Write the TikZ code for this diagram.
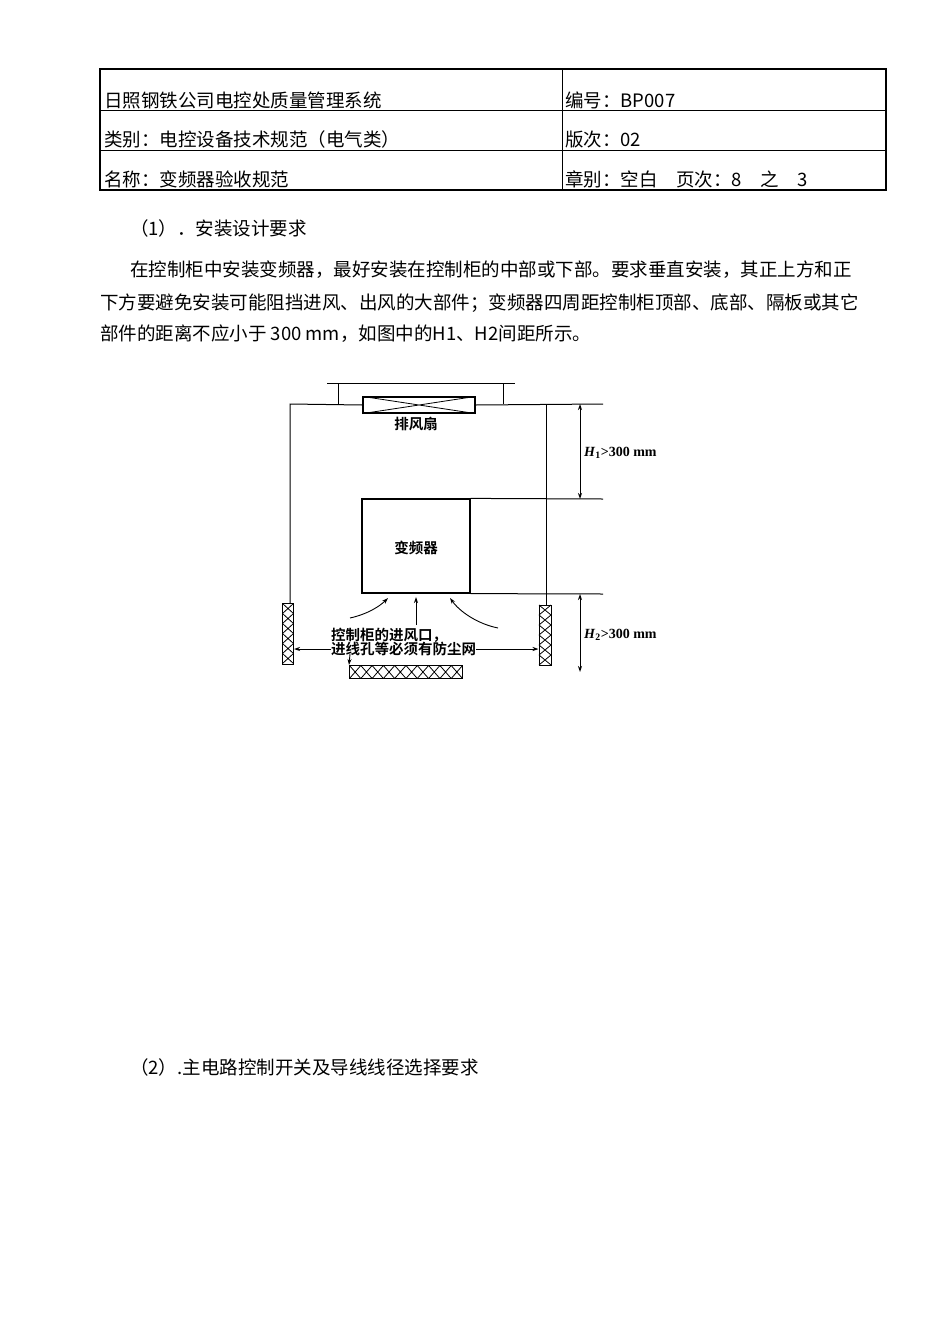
\documentclass[tikz,border=0pt]{standalone}
\usepackage{fontspec}
\setmainfont{Liberation Serif}
\newfontfamily\cjk{Noto Sans CJK SC}
\newfontfamily\cjkb{Noto Sans CJK SC Bold}
\usetikzlibrary{arrows.meta}
\begin{document}
\begin{tikzpicture}[x=1pt,y=-1pt,
  txt/.style={anchor=west,inner sep=0,font=\cjk\fontsize{18.5}{20}\selectfont},
  dtxt/.style={inner sep=0,font=\cjkb\fontsize{14.5}{16}\selectfont},
  box/.style={draw,line width=1.2pt},
  filt/.style={draw,line width=1pt},
  ln/.style={line width=1pt},
  arr/.style={line width=0.9pt,-{Stealth[length=6pt,width=4pt]}},
  dim/.style={line width=1pt,{Stealth[length=6pt,width=4pt]}-{Stealth[length=6pt,width=4pt]}}]
\useasboundingbox (0,0) rectangle (950,1344);
% header table
\draw[line width=2.2pt] (100,69) rectangle (886,190);
\draw[line width=1pt] (100,110) -- (886,110) (100,150) -- (886,150) (562,69) -- (562,190);
\node[txt] (h1) at (104,100) {日照钢铁公司电控处质量管理系统};
\node[txt] (h2) at (104,139) {类别：电控设备技术规范（电气类）};
\node[txt] (h3) at (104,179) {名称：变频器验收规范};
\node[txt] (h4) at (565,100) {编号：BP007};
\node[txt] (h5) at (565,139) {版次：02};
\node[txt] (h6) at (565,179) {章别：空白\quad 页次：8\quad 之\quad 3};
% body text
\node[txt] (t1) at (130,228) {（1）．安装设计要求};
\node[txt] (t2) at (130,270) {在控制柜中安装变频器，最好安装在控制柜的中部或下部。要求垂直安装，其正上方和正};
\node[txt] (t3) at (100,303) {下方要避免安装可能阻挡进风、出风的大部件；变频器四周距控制柜顶部、底部、隔板或其它};
\node[txt] (t4) at (100,334) {部件的距离不应小于 300 mm，如图中的H1、H2间距所示。};
\node[txt] (t5) at (130,1067) {（2）.主电路控制开关及导线线径选择要求};
% diagram
\draw[ln] (327,383) -- (515,383);
\draw[ln] (338,383) -- (338,404) (503,383) -- (503,404);
\node[box,minimum width=112pt,minimum height=16pt,inner sep=0] (fan) at (419,405) {};
\draw[line width=0.8pt] (fan.north west) -- (fan.south east) (fan.south west) -- (fan.north east);
\node[dtxt] (fant) at (416,424) {排风扇};
\draw[ln] (fan.west) -- (290,404) -- (290,603);
\draw[ln] (fan.east) -- (603,404);
\draw[ln] (546,404) -- (546,605);
\node[filt,minimum width=11pt,minimum height=61pt,inner sep=0] (lf) at (288,634) {};
\node[filt,minimum width=12pt,minimum height=60pt,inner sep=0] (rf) at (545,635) {};
\node[filt,minimum width=113pt,minimum height=13pt,inner sep=0] (bf) at (406,672) {};
% cross hatching
\foreach \i in {0,...,5} {
  \draw[line width=0.8pt] (282.5,603.5+10*\i) -- (293.5,613.5+10*\i) (293.5,603.5+10*\i) -- (282.5,613.5+10*\i);
  \draw[line width=0.8pt] (539,605+10*\i) -- (551,615+10*\i) (551,605+10*\i) -- (539,615+10*\i);
}
\foreach \i in {0,...,9} {
  \draw[line width=0.8pt] (349.5+11.3*\i,665.5) -- (360.8+11.3*\i,678.5) (360.8+11.3*\i,665.5) -- (349.5+11.3*\i,678.5);
}
\node[box,minimum width=108pt,minimum height=94pt,inner sep=0] (inv) at (416,546) {};
\node[dtxt] (invt) at (416,548) {变频器};
\draw[ln] (inv.north east) -- (603,499);
\draw[ln] (inv.south east) -- (603,594);
\draw[dim] (580,404) -- (580,499);
\draw[dim] (580,594) -- (580,672);
\node[dtxt,anchor=west,font=\bfseries\fontsize{14}{16}\selectfont] (H1) at (584,453) {\textit{H}\textsubscript{1}>300 mm};
\node[dtxt,anchor=west,font=\bfseries\fontsize{14}{16}\selectfont] (H2) at (584,635) {\textit{H}\textsubscript{2}>300 mm};
\node[dtxt,anchor=west] (l1) at (331,635) {控制柜的进风口，};
\node[dtxt,anchor=west] (l2) at (331,649) {进线孔等必须有防尘网};
\coordinate (a1) at (350,618);
\coordinate (a2) at (388,598);
\draw[arr] (a1) .. controls (368,614) and (380,606) .. (a2);
\coordinate (a3) at (416,625);
\coordinate (a4) at (416,597);
\draw[arr] (a3) -- (a4);
\coordinate (a5) at (498,628);
\coordinate (a6) at (450,598);
\draw[arr] (a5) .. controls (478,624) and (460,612) .. (a6);
\draw[arr] (l2.west) -- (lf.east |- l2.west);
\draw[arr] (l2.east) -- (rf.west |- l2.east);
\coordinate (a7) at (350,654);
\draw[arr] (a7) -- (bf.north west);
\end{tikzpicture}
\end{document}
